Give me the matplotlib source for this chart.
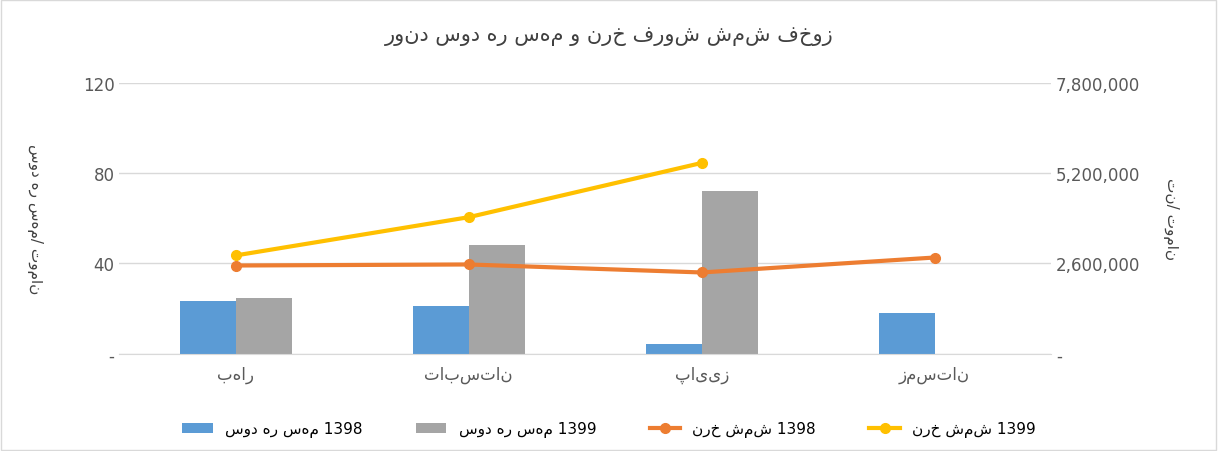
import matplotlib
matplotlib.use("Agg")
import matplotlib.pyplot as plt
import numpy as np
from matplotlib.ticker import FuncFormatter

categories = ["بهار", "تابستان", "پاییز", "زمستان"]
eps_1398 = [23.5, 21, 4.5, 18]
eps_1399 = [24.5, 48, 72, np.nan]
rate_1398 = [2540000, 2570000, 2340000, 2770000]
rate_1399 = [2830000, 3930000, 5490000, np.nan]
labels = ["سود هر سهم 1398", "سود هر سهم 1399", "نرخ شمش 1398", "نرخ شمش 1399"]
title = "روند سود هر سهم و نرخ فروش شمش فخوز"

plt.rcParams['font.family'] = ['DejaVu Sans']
fig = plt.figure(figsize=(12.18, 4.52), dpi=100)
ax = fig.add_axes([0.098, 0.215, 0.765, 0.6])
ax2 = ax.twinx()
x = np.arange(len(categories))
w = 0.24
b1 = ax.bar(x - w/2, eps_1398, w, color="#5B9BD5", label=labels[0])
b2 = ax.bar(x + w/2, eps_1399, w, color="#A5A5A5", label=labels[1])
l1, = ax2.plot(x, rate_1398, color="#ED7D31", lw=3, marker="o", ms=7, label=labels[2])
l2, = ax2.plot(x, rate_1399, color="#FFC000", lw=3, marker="o", ms=7, label=labels[3])
ax.set_xlim(-0.5, 3.5)
ax.set_ylim(0, 120)
ax2.set_ylim(0, 7800000)
ax.set_yticks([0, 40, 80, 120])
ax2.set_yticks([0, 2600000, 5200000, 7800000])
ax.yaxis.set_major_formatter(FuncFormatter(lambda v, p: "-" if v == 0 else f"{int(v)}"))
ax2.yaxis.set_major_formatter(FuncFormatter(lambda v, p: "-" if v == 0 else f"{int(v):,}"))
ax.set_xticks(x)
ax.set_xticklabels(categories)
ax.grid(axis="y", color="#D9D9D9", lw=1)
ax.set_axisbelow(True)
for a in (ax, ax2):
    for s in a.spines.values():
        s.set_visible(False)
    a.tick_params(length=0, labelsize=12, colors="#595959")
ax.spines["bottom"].set_visible(True)
ax.spines["bottom"].set_color("#D9D9D9")
ax.tick_params(axis="x", pad=8)
ax.set_ylabel("سود هر سهم/ تومان", rotation=270, labelpad=40, fontsize=11, color="#404040", va="bottom")
ax2.set_ylabel("تن/ تومان", rotation=270, labelpad=28, fontsize=11, color="#404040")
fig.text(0.5, 0.91, title, ha="center", fontsize=15, color="#404040")
fig.legend(handles=[b1, b2, l1, l2], loc="lower center", ncol=4, frameon=False,
           fontsize=11, bbox_to_anchor=(0.5, 0.0), columnspacing=3.5)
fig.patches.append(plt.Rectangle((0.001, 0.002), 0.997, 0.995, transform=fig.transFigure,
                                 fill=False, ec="#D9D9D9", lw=1))
fig.savefig("out.png", dpi=100)
